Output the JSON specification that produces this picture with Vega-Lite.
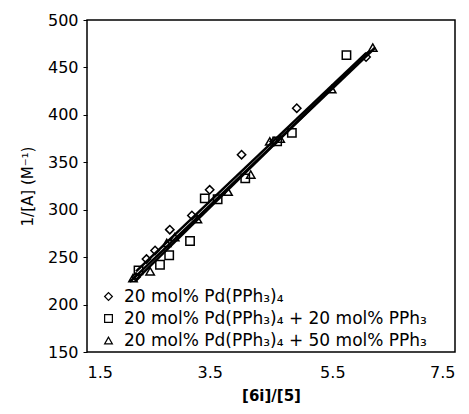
{
  "$schema": "https://vega.github.io/schema/vega-lite/v6.json",
  "width": 368,
  "height": 332,
  "autosize": {"type": "none"},
  "padding": {"left": 87, "top": 20, "right": 14, "bottom": 62},
  "background": "white",
  "config": {
    "font": "DejaVu Sans",
    "view": {"stroke": "black", "strokeWidth": 1.5},
    "axis": {"grid": false, "domain": false, "tickColor": "black", "labelColor": "black", "titleColor": "black", "labelFontSize": 16, "titleFontSize": 15, "labelFont": "DejaVu Sans", "titleFont": "DejaVu Sans"}
  },
  "datasets": {
    "pts": [
      {"x": 2.3, "y": 229, "s": "20 mol% Pd(PPh₃)₄"},
      {"x": 2.47, "y": 248, "s": "20 mol% Pd(PPh₃)₄"},
      {"x": 2.61, "y": 257, "s": "20 mol% Pd(PPh₃)₄"},
      {"x": 2.85, "y": 279, "s": "20 mol% Pd(PPh₃)₄"},
      {"x": 3.21, "y": 294, "s": "20 mol% Pd(PPh₃)₄"},
      {"x": 3.5, "y": 321, "s": "20 mol% Pd(PPh₃)₄"},
      {"x": 4.02, "y": 358, "s": "20 mol% Pd(PPh₃)₄"},
      {"x": 4.55, "y": 372, "s": "20 mol% Pd(PPh₃)₄"},
      {"x": 4.92, "y": 407, "s": "20 mol% Pd(PPh₃)₄"},
      {"x": 6.05, "y": 461, "s": "20 mol% Pd(PPh₃)₄"},
      {"x": 2.34, "y": 236, "s": "20 mol% Pd(PPh₃)₄ + 20 mol% PPh₃"},
      {"x": 2.69, "y": 242, "s": "20 mol% Pd(PPh₃)₄ + 20 mol% PPh₃"},
      {"x": 2.84, "y": 252, "s": "20 mol% Pd(PPh₃)₄ + 20 mol% PPh₃"},
      {"x": 3.18, "y": 267, "s": "20 mol% Pd(PPh₃)₄ + 20 mol% PPh₃"},
      {"x": 3.42, "y": 312, "s": "20 mol% Pd(PPh₃)₄ + 20 mol% PPh₃"},
      {"x": 3.63, "y": 311, "s": "20 mol% Pd(PPh₃)₄ + 20 mol% PPh₃"},
      {"x": 4.08, "y": 333, "s": "20 mol% Pd(PPh₃)₄ + 20 mol% PPh₃"},
      {"x": 4.6, "y": 372, "s": "20 mol% Pd(PPh₃)₄ + 20 mol% PPh₃"},
      {"x": 4.84, "y": 381, "s": "20 mol% Pd(PPh₃)₄ + 20 mol% PPh₃"},
      {"x": 5.73, "y": 463, "s": "20 mol% Pd(PPh₃)₄ + 20 mol% PPh₃"},
      {"x": 2.25, "y": 228, "s": "20 mol% Pd(PPh₃)₄ + 50 mol% PPh₃"},
      {"x": 2.53, "y": 235, "s": "20 mol% Pd(PPh₃)₄ + 50 mol% PPh₃"},
      {"x": 2.8, "y": 265, "s": "20 mol% Pd(PPh₃)₄ + 50 mol% PPh₃"},
      {"x": 2.93, "y": 271, "s": "20 mol% Pd(PPh₃)₄ + 50 mol% PPh₃"},
      {"x": 3.3, "y": 290, "s": "20 mol% Pd(PPh₃)₄ + 50 mol% PPh₃"},
      {"x": 3.8, "y": 319, "s": "20 mol% Pd(PPh₃)₄ + 50 mol% PPh₃"},
      {"x": 4.17, "y": 337, "s": "20 mol% Pd(PPh₃)₄ + 50 mol% PPh₃"},
      {"x": 4.48, "y": 372, "s": "20 mol% Pd(PPh₃)₄ + 50 mol% PPh₃"},
      {"x": 4.65, "y": 375, "s": "20 mol% Pd(PPh₃)₄ + 50 mol% PPh₃"},
      {"x": 5.49, "y": 427, "s": "20 mol% Pd(PPh₃)₄ + 50 mol% PPh₃"},
      {"x": 6.16, "y": 471, "s": "20 mol% Pd(PPh₃)₄ + 50 mol% PPh₃"}
    ],
    "fits": [
      {"x": 2.3, "y": 235, "s": "a"},
      {"x": 6.05, "y": 465, "s": "a"},
      {"x": 2.3, "y": 226, "s": "b"},
      {"x": 6.1, "y": 467, "s": "b"},
      {"x": 2.2, "y": 224, "s": "c"},
      {"x": 6.2, "y": 471, "s": "c"}
    ]
  },
  "layer": [
    {
      "data": {"name": "fits"},
      "mark": {"type": "line", "color": "black", "strokeWidth": 2.5},
      "encoding": {
        "x": {"field": "x", "type": "quantitative"},
        "y": {"field": "y", "type": "quantitative"},
        "detail": {"field": "s"}
      }
    },
    {
      "data": {"name": "pts"},
      "mark": {"type": "point", "filled": false, "color": "black", "strokeWidth": 1.5, "size": 70, "opacity": 1},
      "encoding": {
        "x": {"field": "x", "type": "quantitative", "title": "[6i]/[5]", "scale": {"domain": [1.5, 7.5], "nice": false, "zero": false}, "axis": {"values": [1.5, 3.5, 5.5, 7.5], "format": ".1f", "tickSize": 0, "labelPadding": 12, "titleFontWeight": "bold", "titlePadding": 8}},
        "y": {"field": "y", "type": "quantitative", "title": "1/[A] (M⁻¹)", "scale": {"domain": [150, 500], "nice": false, "zero": false}, "axis": {"values": [150, 200, 250, 300, 350, 400, 450, 500], "tickSize": 4, "labelPadding": 5, "titleFontWeight": "normal", "titlePadding": 12}},
        "shape": {
          "field": "s", "type": "nominal",
          "scale": {"domain": ["20 mol% Pd(PPh₃)₄", "20 mol% Pd(PPh₃)₄ + 20 mol% PPh₃", "20 mol% Pd(PPh₃)₄ + 50 mol% PPh₃"], "range": ["diamond", "square", "triangle-up"]},
          "legend": {"title": null, "orient": "none", "legendX": 13, "legendY": 268, "labelFontSize": 17, "labelFont": "DejaVu Sans", "labelLimit": 0, "labelColor": "black", "symbolSize": 60, "symbolStrokeColor": "black", "symbolStrokeWidth": 1.2, "rowPadding": 4, "labelOffset": 7}
        }
      }
    }
  ]
}
